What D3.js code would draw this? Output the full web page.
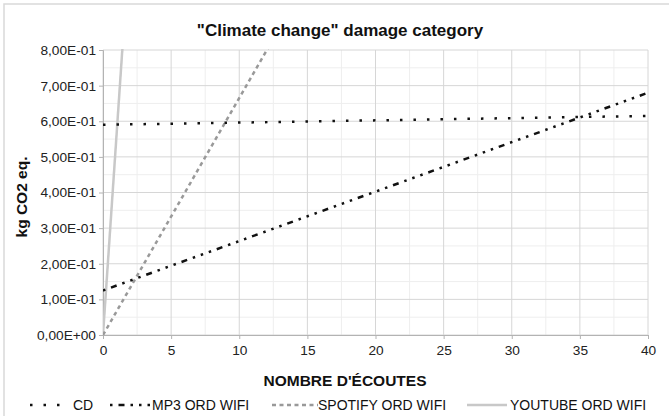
<!DOCTYPE html>
<html><head><meta charset="utf-8">
<script src="https://cdn.jsdelivr.net/npm/d3@7"></script>
<style>body{margin:0;background:#fff}svg{display:block;font-family:"Liberation Sans",Arial,sans-serif}</style>
</head><body><svg id="c" width="669" height="416"></svg>
<script>
const xTicks = [0,5,10,15,20,25,30,35,40];
const yTicks = [0,0.1,0.2,0.3,0.4,0.5,0.6,0.7,0.8];
const yTickLabels = ["0,00E+00","1,00E-01","2,00E-01","3,00E-01","4,00E-01","5,00E-01","6,00E-01","7,00E-01","8,00E-01"];
const seriesNames = ["CD","MP3 ORD WIFI","SPOTIFY ORD WIFI","YOUTUBE ORD WIFI"];
const ecoutes = [0,40];
const cdValues = [0.59,0.615];
const mp3Values = [0.125,0.68];
const spotifyValues = [0,2.66];
const youtubeValues = [0,22.6];

const svg = d3.select("#c");
const L=103,R=648,T=50,B=335;
const x = d3.scaleLinear().domain([0,40]).range([L,R]);
const y = d3.scaleLinear().domain([0,0.8]).range([B,T]);

svg.append("rect").attr("x",4).attr("y",4).attr("width",700).attr("height",500)
  .attr("fill","none").attr("stroke","#d9d9d9").attr("stroke-width",1.5);

const g = svg.append("g");
d3.range(0,40.01,2.5).forEach(v=>{ if(v%5) g.append("line").attr("x1",x(v)).attr("x2",x(v)).attr("y1",T).attr("y2",B).attr("stroke","#eeeeee");});
d3.range(0,0.801,0.05).forEach((v,i)=>{ if(i%2) g.append("line").attr("x1",L).attr("x2",R).attr("y1",y(v)).attr("y2",y(v)).attr("stroke","#eeeeee");});
xTicks.forEach(v=>g.append("line").attr("x1",x(v)).attr("x2",x(v)).attr("y1",T).attr("y2",B).attr("stroke","#d6d6d6"));
yTicks.forEach(v=>g.append("line").attr("x1",L).attr("x2",R).attr("y1",y(v)).attr("y2",y(v)).attr("stroke","#d6d6d6"));

const xa = svg.append("g").attr("transform",`translate(0,${B})`)
  .call(d3.axisBottom(x).tickValues(xTicks).tickSize(4).tickPadding(3));
const ya = svg.append("g").attr("transform",`translate(${L},0)`)
  .call(d3.axisLeft(y).tickValues(yTicks).tickFormat((d,i)=>yTickLabels[i]).tickSize(4).tickPadding(3));
[xa,ya].forEach(a=>{a.select(".domain").attr("stroke","#b3b3b3");a.selectAll(".tick line").attr("stroke","#b3b3b3");
  a.selectAll("text").attr("font-size",13.7).attr("fill","#222").attr("font-family","Liberation Sans, Arial, sans-serif");});
xa.selectAll("text").attr("dy","0.95em");

svg.append("clipPath").attr("id","pc").append("rect").attr("x",L).attr("y",T-1).attr("width",R-L+1).attr("height",B-T+2);

const styles = [
  {vals:cdValues, stroke:"#111", w:2.5, dash:"2.5,11"},
  {vals:mp3Values, stroke:"#111", w:2.5, dash:"2.5,6,6,6,2.5,6,2.5,6"},
  {vals:spotifyValues, stroke:"#999", w:2.5, dash:"4,3.5"},
  {vals:youtubeValues, stroke:"#c8c8c8", w:2.5, dash:null}
];
const line = d3.line().x((d,i)=>x(ecoutes[i])).y(d=>y(d));
const lg = svg.append("g").attr("clip-path","url(#pc)");
styles.slice().reverse().forEach(s=>{
  lg.append("path").attr("d",line(s.vals)).attr("fill","none").attr("stroke",s.stroke)
    .attr("stroke-width",s.w).attr("stroke-dasharray",s.dash);
});

svg.append("text").attr("x",340).attr("y",36).attr("text-anchor","middle").attr("font-weight","bold")
  .attr("font-size",17).attr("fill","#111").text('"Climate change" damage category');
svg.append("text").attr("transform","translate(27,197) rotate(-90)").attr("text-anchor","middle")
  .attr("font-weight","bold").attr("font-size",15.5).attr("fill","#111").text("kg CO2 eq.");
svg.append("text").attr("x",345).attr("y",386).attr("text-anchor","middle").attr("font-weight","bold")
  .attr("font-size",15.5).attr("fill","#111").text("NOMBRE D'ÉCOUTES");

const leg = [{x1:30,x2:62,tx:73},{x1:110,x2:152,tx:152},{x1:272,x2:318,tx:318},{x1:467,x2:507,tx:510}];
leg.forEach((p,i)=>{
  const s = styles[i];
  svg.append("line").attr("x1",p.x1).attr("x2",p.x2).attr("y1",405).attr("y2",405)
    .attr("stroke",s.stroke).attr("stroke-width",s.w).attr("stroke-dasharray",s.dash);
  svg.append("text").attr("x",p.tx).attr("y",409.5).attr("font-size",14).attr("fill","#111").text(seriesNames[i]);
});
</script></body></html>
